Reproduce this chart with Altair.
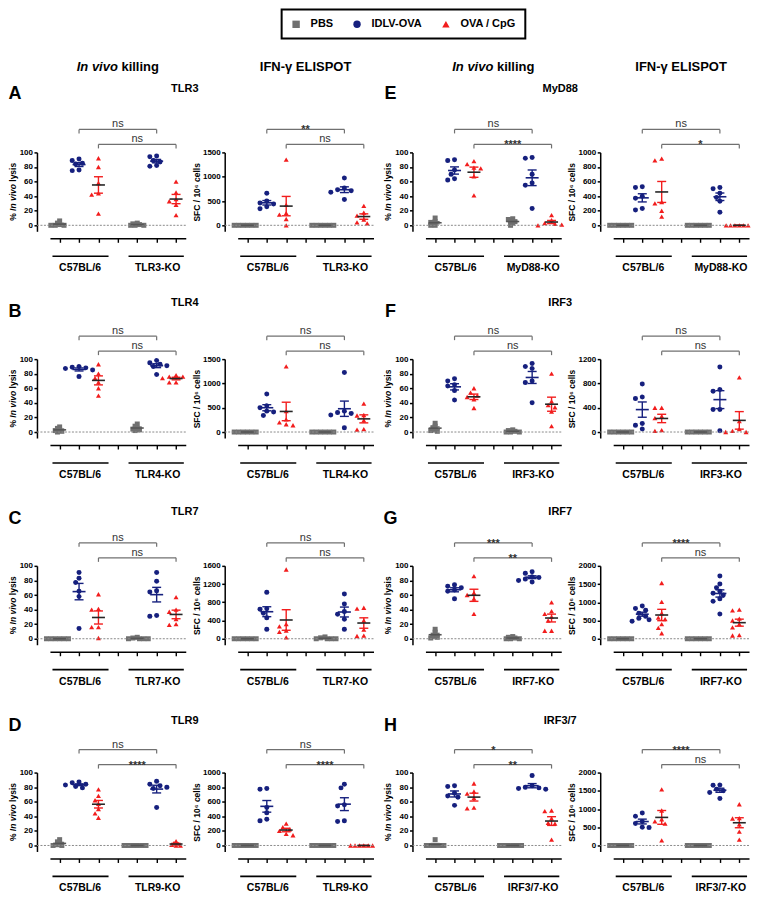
import altair as alt
import pandas as pd

FONT = "Liberation Sans"
GROUPS = ["PBS", "IDLV-OVA", "OVA / CpG"]
COLORS = ["#707070", "#16207e", "#f21d1d"]
MEAN_COLORS = ["#555555", "#16207e", "#262626"]
SHAPES = ["square", "circle", "triangle-up"]

# each list: [WT PBS, WT IDLV-OVA, WT OVA/CpG, KO PBS, KO IDLV-OVA, KO OVA/CpG]
TLR3_KILL = [[0, 0, 0, 1, 3, 6], [91, 89, 85, 84, 76, 75], [92, 80, 58, 44, 42, 16],
             [0, 0, 0, 1, 2, 3], [95, 94, 89, 87, 82, 81], [60, 45, 36, 33, 28, 14]]
TLR3_ELI = [[0, 0, 0, 0, 0, 0], [660, 500, 460, 440, 380, 340], [1350, 420, 250, 220, 130, 0],
            [0, 0, 0, 0, 0, 0], [975, 770, 730, 710, 680, 530], [400, 260, 200, 120, 60, 40]]
TLR4_KILL = [[0, 1, 2, 3, 5, 7], [90, 89, 88, 87, 85, 76], [93, 80, 74, 68, 60, 50],
             [11, 8, 5, 4, 3, 2], [98, 95, 93, 91, 90, 79], [78, 76, 76, 74, 68, 68]]
TLR4_ELI = [[0, 0, 0, 0, 0, 0], [780, 540, 500, 430, 410, 340], [1350, 430, 260, 200, 160, 140],
            [0, 0, 0, 0, 0, 0], [1225, 430, 400, 380, 350, 90], [585, 350, 340, 240, 60, 50]]
TLR7_KILL = [[0, 0, 0, 0, 0, 0], [91, 83, 77, 65, 58, 14], [61, 41, 40, 16, 16, 1],
             [0, 0, 0, 0, 1, 2], [91, 79, 66, 64, 32, 31], [57, 40, 37, 27, 20, 19]]
TLR7_ELI = [[0, 0, 0, 0, 0, 0], [1020, 660, 650, 560, 460, 210], [1520, 320, 270, 180, 150, 30],
            [0, 0, 0, 0, 20, 40], [980, 760, 600, 540, 430, 210], [680, 660, 400, 200, 70, 60]]
TLR9_KILL = [[8, 5, 3, 1, 0, 0], [87, 86, 84, 83, 81, 79], [77, 68, 62, 57, 50, 44, 38],
             [0, 0, 0, 0, 0, 0], [88, 84, 82, 80, 78, 52], [6, 3, 2, 1, 0, 0]]
TLR9_ELI = [[0, 0, 0, 0, 0, 0], [780, 770, 520, 450, 360, 340], [300, 250, 220, 200, 160, 140],
            [0, 0, 0, 0, 0, 0], [840, 790, 560, 540, 340, 330], [0, 0, 0, 0, 0, 0]]
MYD88_KILL = [[0, 0, 2, 4, 5, 10], [89, 90, 76, 70, 64, 62], [88, 84, 79, 78, 67, 41],
              [0, 3, 5, 6, 8, 9], [93, 92, 70, 58, 55, 23], [14, 7, 3, 2, 1, 0]]
MYD88_ELI = [[0, 0, 0, 0, 0, 0], [530, 520, 400, 370, 230, 210], [915, 890, 320, 300, 200, 120],
             [0, 0, 0, 0, 0, 0], [520, 500, 440, 380, 330, 180], [0, 0, 0, 0, 0, 0]]
IRF3_KILL = [[12, 8, 6, 3, 2, 1], [73, 70, 65, 63, 57, 44], [60, 54, 50, 48, 45, 33],
             [0, 0, 0, 1, 2, 3], [94, 90, 87, 70, 68, 40], [80, 42, 37, 34, 28, 8]]
IRF3_ELI = [[0, 0, 0, 0, 0, 0], [790, 575, 550, 140, 110, 50], [400, 400, 260, 230, 30, 20],
            [0, 0, 0, 0, 0, 0], [1070, 700, 670, 370, 370, 20], [900, 180, 50, 20, 0, 0]]
IRF7_KILL = [[13, 9, 5, 3, 2, 1], [74, 72, 70, 67, 65, 55], [86, 63, 60, 55, 34],
             [0, 0, 0, 1, 2, 3], [92, 90, 85, 84, 82, 80, 78], [50, 38, 34, 30, 25, 11, 11]]
IRF7_ELI = [[0, 0, 0, 0, 0, 0], [900, 830, 780, 700, 620, 560, 520, 480],
            [1530, 1010, 700, 580, 540, 400, 300, 150], [0, 0, 0, 0, 0, 0],
            [1720, 1500, 1400, 1300, 1250, 1200, 1100, 1030, 680], [800, 780, 550, 500, 400, 310, 100, 90]]
IRF37_KILL = [[8, 0, 0, 0, 0, 0], [82, 81, 72, 68, 66, 55], [85, 74, 71, 65, 52, 51],
              [0, 0, 0, 0, 0, 0], [96, 82, 80, 79, 78, 77], [48, 47, 37, 31, 30, 8]]
IRF37_ELI = [[0, 0, 0, 0, 0, 0], [890, 800, 660, 600, 500, 490], [1540, 960, 720, 660, 600, 140],
             [0, 0, 0, 0, 0, 0], [1660, 1650, 1540, 1500, 1450, 1290], [1130, 750, 740, 580, 380, 160]]

KILL_TICKS = [0, 20, 40, 60, 80, 100]
ELI_TICKS = {
    "TLR3": [0, 500, 1000, 1500], "TLR4": [0, 500, 1000, 1500],
    "TLR7": [0, 400, 800, 1200, 1600], "TLR9": [0, 200, 400, 600, 800, 1000],
    "MyD88": [0, 200, 400, 600, 800, 1000], "IRF3": [0, 400, 800, 1200],
    "IRF7": [0, 500, 1000, 1500, 2000], "IRF3/7": [0, 500, 1000, 1500, 2000],
}
# (letter, gene, KO label, killing data, killing significance, ELISPOT data, ELISPOT significance)
PANELS = [
    ("A", "TLR3", "TLR3-KO", TLR3_KILL, ["ns", "ns"], TLR3_ELI, ["**", "ns"]),
    ("E", "MyD88", "MyD88-KO", MYD88_KILL, ["ns", "****"], MYD88_ELI, ["ns", "*"]),
    ("B", "TLR4", "TLR4-KO", TLR4_KILL, ["ns", "ns"], TLR4_ELI, ["ns", "ns"]),
    ("F", "IRF3", "IRF3-KO", IRF3_KILL, ["ns", "ns"], IRF3_ELI, ["ns", "ns"]),
    ("C", "TLR7", "TLR7-KO", TLR7_KILL, ["ns", "ns"], TLR7_ELI, ["ns", "ns"]),
    ("G", "IRF7", "IRF7-KO", IRF7_KILL, ["***", "**"], IRF7_ELI, ["****", "ns"]),
    ("D", "TLR9", "TLR9-KO", TLR9_KILL, ["ns", "****"], TLR9_ELI, ["ns", "****"]),
    ("H", "IRF3/7", "IRF3/7-KO", IRF37_KILL, ["*", "**"], IRF37_ELI, ["****", "ns"]),
]

W, H = 136, 79
ZERO_PX = 73
LETTER_DY = [-58, -47, -47, -47]
GENE_DY = [-63, -56, -54, -52]
BRACKET_PY = [-23, -8]

ONE = pd.DataFrame({"z": [0]})
XS = alt.Scale(domain=[0.5, 7.5], nice=False, zero=False)

CSCALE = alt.Scale(domain=GROUPS, range=COLORS)
SSCALE = alt.Scale(domain=GROUPS, range=SHAPES)
LEG = alt.Legend(orient="none", legendX=232, legendY=-143, direction="horizontal", title=None,
                 strokeColor="black", padding=9, labelFont=FONT, labelFontSize=11,
                 labelFontWeight="bold", labelColor="black", symbolSize=55, symbolStrokeWidth=0,
                 labelOffset=9, columnPadding=18)


def swarm(vals, ppu_y, step, mind):
    offs = [0.0] * len(vals)
    placed = []
    cands = [0.0]
    for j in range(1, 25):
        cands += [-j * step, j * step]
    for i in sorted(range(len(vals)), key=lambda k: -vals[k]):
        py = vals[i] * ppu_y
        for c in cands:
            if all((c - a) ** 2 + (py - b) ** 2 >= mind ** 2 for a, b in placed):
                offs[i] = c
                placed.append((c, py))
                break
    return offs


def text_layer(txt, px, py, size, weight="bold", style="normal", align="center",
               baseline="middle", color="black", angle=0):
    return alt.Chart(ONE).mark_text(text=txt, font=FONT, fontSize=size, fontWeight=weight,
                                    fontStyle=style, align=align, baseline=baseline,
                                    color=color, angle=angle).encode(x=alt.value(px), y=alt.value(py))


def lysis_title():
    # "% In vivo lysis" with italic "In vivo", rotated like an axis title
    fs = 8.5
    w1, w2, w3 = 1.167 * fs, 3.168 * fs, 2.502 * fs
    start = H / 2 + (w1 + w2 + w3) / 2
    return [
        text_layer("%", -37, start, fs, align="left", angle=270),
        text_layer("In vivo", -37, start - w1, fs, style="italic", align="left", angle=270),
        text_layer("lysis", -37, start - w1 - w2 - 0.278 * fs, fs, align="left", angle=270),
    ]


def panel(values, ticks, sigs, ko, ytitle, extras):
    ymax = ticks[-1]
    ymin = -ymax * (H - ZERO_PX) / ZERO_PX
    ys = alt.Scale(domain=[ymin, ymax], nice=False, zero=False)
    ppu_y = H / (ymax - ymin)
    ppu_x = W / 7.0
    rows = []
    for gi, vals in enumerate(values):
        pos = gi + 1 if gi < 3 else gi + 2
        if gi % 3 == 0 or max(vals) * ppu_y < 8:
            offs = swarm(vals, ppu_y, 2.2, 2.6)
        else:
            offs = swarm(vals, ppu_y, 3.4, 4.8)
        for v, o in zip(vals, offs):
            rows.append({"pos": pos, "x": pos + o / ppu_x, "value": v, "group": GROUPS[gi % 3],
                         "scol": COLORS[gi % 3], "mcol": MEAN_COLORS[gi % 3]})
    df = pd.DataFrame(rows)

    yaxis = alt.Axis(values=ticks, title=ytitle, offset=13, grid=False, format="d",
                     domainColor="black", domainWidth=1.5, tickColor="black", tickWidth=1.5,
                     tickSize=3, labelFont=FONT, labelFontSize=8, labelFontWeight="bold",
                     labelColor="black", labelPadding=1.5, labelOverlap=False, labelFlush=False,
                     titleFont=FONT, titleFontSize=8.5, titleFontWeight="bold",
                     titleColor="black", titlePadding=1)
    xaxis = alt.Axis(values=[1, 2, 3, 4, 5, 6, 7], labels=False, title=None, offset=7,
                     grid=False, domainColor="black", domainWidth=1.6, tickColor="black",
                     tickWidth=1.4, tickSize=4)

    def X(f):
        return alt.X(f, scale=XS, axis=xaxis)

    def Y(f):
        return alt.Y(f, scale=ys, axis=yaxis)

    points = alt.Chart(df).mark_point(filled=True, size=25, opacity=1, strokeWidth=0).encode(
        x=X("x:Q"), y=Y("value:Q"),
        color=alt.Color("group:N", scale=CSCALE, legend=LEG),
        shape=alt.Shape("group:N", scale=SSCALE, legend=LEG),
    )
    zero = alt.Chart(ONE).mark_rule(color="#8a8a8a", strokeWidth=1, strokeDash=[2, 1.5]).encode(
        x=alt.value(-13), x2=alt.value(W), y=Y("z:Q"))

    stats = alt.Chart(df).transform_aggregate(
        m="mean(value)", se="stderr(value)", groupby=["pos", "group", "scol", "mcol"]
    ).transform_calculate(lo="datum.m - datum.se", hi="datum.m + datum.se")
    vbar = stats.mark_rule(strokeWidth=1.4).encode(
        x=X("pos:Q"), y=Y("lo:Q"), y2="hi:Q", stroke=alt.Stroke("scol:N", scale=None))
    caps = [stats.mark_rule(strokeWidth=1.4, xOffset=-4.5, x2Offset=4.5).encode(
        x=X("pos:Q"), x2="pos:Q", y=Y(f"{k}:Q"),
        stroke=alt.Stroke("scol:N", scale=None)) for k in ("lo", "hi")]
    mean = stats.mark_rule(strokeWidth=1.6, xOffset=-6.5, x2Offset=6.5).encode(
        x=X("pos:Q"), x2="pos:Q", y=Y("m:Q"), stroke=alt.Stroke("mcol:N", scale=None))

    layers = [points, zero, vbar] + caps + [mean]

    for k, lab in enumerate(sigs):
        py = BRACKET_PY[k]
        a, b = 2 + k, 6 + k
        bd = pd.DataFrame({"a": [a], "b": [b], "c": [(a + b) / 2], "t": [lab]})
        ed = pd.DataFrame({"a": [a, b]})
        layers.append(alt.Chart(bd).mark_rule(color="#707070", strokeWidth=1.2).encode(
            x=X("a:Q"), x2="b:Q", y=alt.value(py)))
        layers.append(alt.Chart(ed).mark_rule(color="#707070", strokeWidth=1.2).encode(
            x=X("a:Q"), y=alt.value(py), y2=alt.value(py + 4)))
        star = "*" in lab
        layers.append(alt.Chart(bd).mark_text(font=FONT, fontSize=11, color="#333333",
                                              fontWeight="bold" if star else "normal",
                                              baseline="alphabetic").encode(
            x=X("c:Q"), y=alt.value(py + 4 if star else py - 2), text="t:N"))

    ul = pd.DataFrame({"a": [0.63, 4.55], "b": [3.52, 7.4]})
    layers.append(alt.Chart(ul).mark_rule(color="black", strokeWidth=1.7).encode(
        x=X("a:Q"), x2="b:Q", y=alt.value(104)))
    gl = pd.DataFrame({"a": [2.05, 6.05], "t": ["C57BL/6", ko]})
    layers.append(alt.Chart(gl).mark_text(font=FONT, fontSize=10.5, fontWeight="bold",
                                          color="black", baseline="middle").encode(
        x=X("a:Q"), y=alt.value(116), text="t:N"))
    layers += extras
    return alt.layer(*layers).properties(width=W, height=H)


cells = []
for r in range(4):
    for h in range(2):
        letter, gene, ko, kd, ks, ed, es = PANELS[r * 2 + h]
        kx = [text_layer(letter, -35, LETTER_DY[r], 18),
              text_layer(gene, 135, GENE_DY[r], 11)] + lysis_title()
        ex = []
        if r == 0:
            kx += [text_layer("In vivo", W / 2, -86, 13, style="italic", align="right"),
                   text_layer("killing", W / 2 + 3.6, -86, 13, align="left")]
            ex += [text_layer("IFN-γ ELISPOT", W / 2, -86, 13)]
        cells.append(panel(kd, KILL_TICKS, ks, ko, None, kx))
        cells.append(panel(ed, ELI_TICKS[gene], es, ko, "SFC / 10⁶ cells", ex))

base = alt.concat(*cells, columns=4, spacing={"row": 128, "column": 52}, bounds="flush") \
    .properties(padding=0)

chart = base.configure_view(stroke=None).configure_legend(strokeWidth=2)
try:
    chart.to_dict()
except Exception:
    chart = base.configure_view(stroke=None)

chart.save("out.html", embed_options={"renderer": "svg", "actions": False})
